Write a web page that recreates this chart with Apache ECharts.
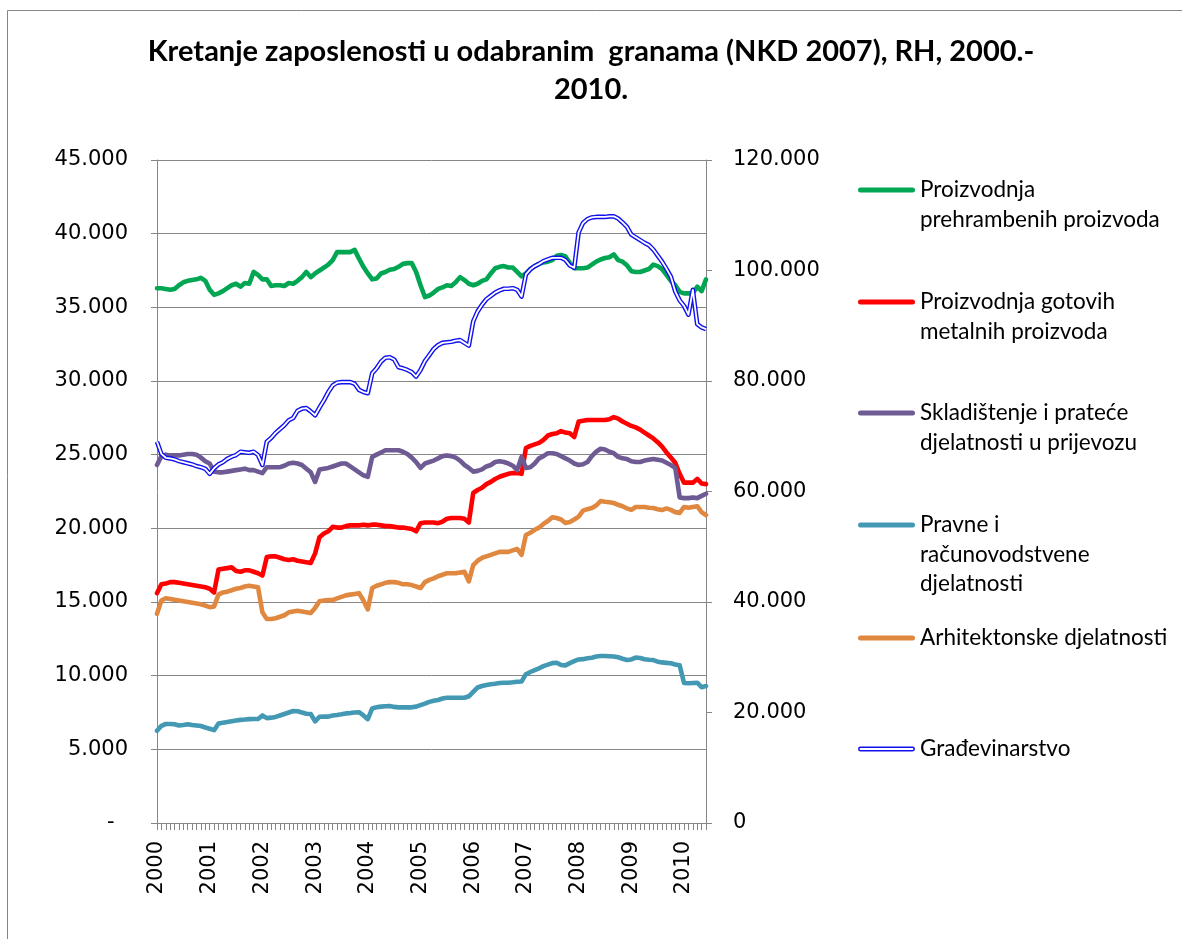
<!DOCTYPE html>
<html>
<head>
    <meta charset="utf-8">
    <title>Kretanje zaposlenosti</title>
    <script src="https://cdn.jsdelivr.net/npm/echarts@6/dist/echarts.min.js"></script>
    <style>
        html, body { margin: 0; padding: 0; background: #fff; }
    </style>
</head>
<body>
    <div id="main" style="width: 1182px;height:939px;"></div>
    <script type="text/javascript">
// godine na osi x, mjesecni podaci sijecanj 2000. - lipanj 2010.
var years = ['2000', '2001', '2002', '2003', '2004', '2005', '2006', '2007', '2008', '2009', '2010'];
var monthsIn2010 = 6;

var seriesNames = [
    'Proizvodnja prehrambenih proizvoda',
    'Proizvodnja gotovih metalnih proizvoda',
    'Skladištenje i prateće djelatnosti u prijevozu',
    'Pravne i računovodstvene djelatnosti',
    'Arhitektonske djelatnosti',
    'Građevinarstvo'
];
// kako se naziv lomi u legendi
var legendLabels = [
    'Proizvodnja\nprehrambenih proizvoda',
    'Proizvodnja gotovih\nmetalnih proizvoda',
    'Skladištenje i prateće\ndjelatnosti u prijevozu',
    'Pravne i\nračunovodstvene\ndjelatnosti',
    'Arhitektonske djelatnosti',
    'Građevinarstvo'
];

var prehrambeni = [
    36300, 36300, 36250, 36200, 36250, 36500, 36700, 36800, 36850, 36900, 37000, 36800,
    36200, 35850, 35950, 36100, 36300, 36500, 36600, 36400, 36650, 36600, 37400, 37200,
    36900, 36900, 36450, 36500, 36500, 36450, 36650, 36600, 36800, 37050, 37400, 37050,
    37300, 37500, 37700, 37900, 38200, 38750, 38750, 38750, 38750, 38900, 38300, 37750,
    37300, 36900, 36950, 37300, 37400, 37550, 37600, 37750, 37950, 38000, 38000, 37400,
    36500, 35700, 35800, 36000, 36250, 36350, 36500, 36450, 36700, 37050, 36850, 36600,
    36500, 36600, 36800, 36900, 37300, 37650, 37750, 37800, 37700, 37700, 37400, 37100,
    37300, 37600, 37800, 37950, 38050, 38100, 38200, 38500, 38550, 38450, 38000, 37650,
    37650, 37650, 37700, 37900, 38100, 38250, 38350, 38400, 38600, 38200, 38100, 37850,
    37450, 37400, 37400, 37500, 37600, 37900, 37800, 37600, 37200, 36800,
    36500, 36050, 35950, 35950, 35950, 36400, 36100, 36900
];

var metalni = [
    15600, 16200, 16250, 16350, 16350, 16300, 16250, 16200, 16150, 16100, 16050, 16000,
    15900, 15650, 17200, 17250, 17300, 17350, 17100, 17050, 17150, 17150, 17050, 16950,
    16800, 18050, 18100, 18100, 18000, 17900, 17850, 17900, 17800, 17750, 17700, 17650,
    18300, 19400, 19650, 19800, 20100, 20050, 20050, 20150, 20200, 20200, 20200, 20250,
    20200, 20250, 20250, 20200, 20150, 20150, 20100, 20050, 20050, 20000, 19950, 19800,
    20350, 20400, 20400, 20400, 20350, 20450, 20650, 20700, 20700, 20700, 20650, 20400,
    22400, 22600, 22750, 23000, 23150, 23350, 23500, 23600, 23700, 23750, 23750, 23700,
    25450, 25600, 25700, 25800, 26000, 26300, 26400, 26450, 26600, 26500, 26450, 26200,
    27250, 27300, 27350, 27350, 27350, 27350, 27350, 27400, 27550, 27450, 27250, 27100,
    26950, 26850, 26700, 26500, 26300, 26100, 25850, 25550, 25150, 24800,
    24450, 23700, 23100, 23100, 23100, 23350, 23050, 23000
];

var skladistenje = [
    24300, 24900, 25000, 24950, 24950, 24950, 25000, 25050, 25050, 25000, 24800, 24550,
    24400, 23850, 23800, 23800, 23850, 23900, 23950, 24000, 24050, 23950, 23950, 23850,
    23750, 24150, 24150, 24150, 24150, 24250, 24400, 24450, 24400, 24300, 24050, 23800,
    23150, 24000, 24050, 24100, 24200, 24300, 24400, 24400, 24200, 24000, 23800, 23600,
    23500, 24850, 25000, 25150, 25300, 25300, 25300, 25300, 25200, 25050, 24800, 24500,
    24100, 24400, 24500, 24600, 24750, 24900, 24950, 24900, 24800, 24600, 24300, 24100,
    23850, 23900, 24000, 24200, 24300, 24500, 24550, 24500, 24400, 24250, 23950, 24850,
    24100, 24150, 24400, 24750, 24900, 25100, 25100, 25050, 24900, 24750, 24600, 24400,
    24300, 24350, 24500, 24900, 25200, 25400, 25350, 25200, 25100, 24850, 24750, 24700,
    24550, 24500, 24500, 24600, 24650, 24700, 24650, 24600, 24450, 24300,
    24100, 22100, 22050, 22050, 22100, 22050, 22200, 22350
];

var pravne = [
    6260, 6600, 6720, 6720, 6700, 6620, 6650, 6700, 6650, 6620, 6580, 6480,
    6400, 6300, 6750, 6800, 6850, 6900, 6950, 7000, 7020, 7050, 7060, 7060,
    7300, 7120, 7150, 7200, 7300, 7400, 7500, 7600, 7580, 7500, 7420, 7400,
    6900, 7210, 7220, 7220, 7300, 7330, 7380, 7440, 7460, 7500, 7520, 7300,
    7050, 7780, 7850, 7900, 7920, 7940, 7880, 7850, 7850, 7850, 7850, 7900,
    8000, 8100, 8220, 8300, 8350, 8450, 8500, 8500, 8500, 8500, 8500, 8600,
    8900, 9200, 9300, 9370, 9420, 9450, 9500, 9520, 9520, 9550, 9590, 9600,
    10100, 10250, 10380, 10500, 10650, 10750, 10850, 10880, 10720, 10700, 10850, 10980,
    11100, 11120, 11180, 11220, 11300, 11330, 11330, 11320, 11300, 11250, 11150, 11060,
    11100, 11230, 11200, 11120, 11080, 11060, 10950, 10900, 10870, 10840,
    10760, 10700, 9500, 9480, 9500, 9520, 9220, 9300
];

var arhitektonske = [
    14200, 15100, 15250, 15200, 15150, 15100, 15050, 15000, 14950, 14900, 14850, 14750,
    14650, 14700, 15500, 15650, 15700, 15800, 15900, 15950, 16050, 16100, 16050, 16000,
    14300, 13850, 13850, 13900, 14000, 14100, 14300, 14350, 14400, 14350, 14300, 14250,
    14600, 15050, 15100, 15130, 15130, 15250, 15350, 15450, 15500, 15550, 15600, 15100,
    14500, 15950, 16100, 16200, 16300, 16350, 16350, 16300, 16200, 16200, 16150, 16050,
    15950, 16350, 16500, 16600, 16750, 16850, 16950, 16950, 16950, 17000, 17050, 16400,
    17500, 17800, 18000, 18100, 18200, 18300, 18400, 18400, 18400, 18500, 18600, 18200,
    19550, 19700, 19900, 20050, 20300, 20500, 20750, 20700, 20600, 20360, 20430, 20600,
    20800, 21200, 21300, 21380, 21550, 21850, 21800, 21770, 21720, 21600, 21500, 21350,
    21250, 21450, 21450, 21450, 21400, 21380, 21300, 21240, 21350, 21250,
    21100, 21050, 21450, 21400, 21450, 21500, 21100, 20900
];

var gradjevinarstvo = [
    69000, 66800, 66100, 66000, 65800, 65500, 65300, 65100, 64900, 64600, 64400, 64100,
    63200, 64200, 64900, 65300, 65900, 66300, 66600, 67200, 67100, 67000, 67200, 66600,
    64800, 69000, 69700, 70600, 71300, 72000, 72900, 73300, 74600, 75000, 75100, 74500,
    73800, 75200, 76500, 78000, 79200, 79700, 79800, 79800, 79800, 79500, 78400, 78000,
    77800, 81400, 82300, 83500, 84200, 84300, 83900, 82500, 82300, 82000, 81600, 80800,
    82000, 83600, 84700, 85800, 86500, 86900, 87000, 87100, 87300, 87400, 86900, 86400,
    90800, 92600, 93800, 94800, 95400, 96000, 96400, 96700, 96700, 96800, 96500, 95300,
    99300, 100200, 100800, 101200, 101700, 102000, 102300, 102300, 102300, 101900, 100900, 100500,
    106900, 108600, 109300, 109600, 109700, 109700, 109700, 109800, 109800, 109400, 108700, 107900,
    106500, 106000, 105500, 105000, 104600, 103800, 102700, 101600, 100300, 98900,
    96200, 94600, 93600, 92000, 96500, 90300, 89700, 89400
];

var colors = ['#00A651', '#FF0000', '#6F5B93', '#4399B3', '#E0883F', '#1010F0'];

// kategorije: godina-mjesec
var months = [];
years.forEach(function (y, yi) {
    var n = yi === years.length - 1 ? monthsIn2010 : 12;
    for (var m = 1; m <= n; m++) {
        months.push(y + '-' + (m < 10 ? '0' + m : m));
    }
});

function fmtThousands(v) {
    return String(v).replace(/\B(?=(\d{3})+(?!\d))/g, '.');
}

var myChart = echarts.init(document.getElementById('main'));

var lineIcon = 'path://M2.5,0H54.5A2.5,2.5,0,0,1,54.5,5H2.5A2.5,2.5,0,0,1,2.5,0Z';
var doubleIcon = 'path://M2,0H55A2,2,0,0,1,55,5H2A2,2,0,0,1,2,0ZM2,1.6A0.9,0.9,0,0,0,2,3.4H55A0.9,0.9,0,0,0,55,1.6Z';

// legenda: svaka stavka posebno, ikona uz prvi red teksta
// (prazni redovi iznad teksta pomicu prvi red na visinu ikone)
var legendY = [190, 302, 413, 525, 638, 749];
var lineH = 29.5;
var legends = seriesNames.map(function (name, i) {
    var nLines = legendLabels[i].split('\n').length;
    var pad = new Array(nLines).join(' \n');
    return {
        left: 858,
        top: legendY[i] - 2.5 - (2 * nLines - 1) * lineH / 2 + 2.5,
        padding: 0,
        itemWidth: 57,
        itemHeight: 5,
        selectedMode: false,
        icon: i === 5 ? doubleIcon : lineIcon,
        formatter: function () { return pad + legendLabels[i]; },
        textStyle: {
            fontFamily: 'Lato',
            fontSize: 22.5,
            color: '#000',
            lineHeight: lineH
        },
        data: [name]
    };
});

var leftData = [prehrambeni, metalni, skladistenje, pravne, arhitektonske];

var series = leftData.map(function (d, i) {
    return {
        name: seriesNames[i],
        type: 'line',
        yAxisIndex: 0,
        data: d,
        symbol: 'none',
        color: colors[i],
        lineStyle: { width: 4.6, color: colors[i], join: 'round', cap: 'round' },
        z: 2 + i
    };
});
// gradjevinarstvo: dvostruka linija (plava + bijela sredina)
series.push({
    name: seriesNames[5],
    type: 'line',
    yAxisIndex: 1,
    data: gradjevinarstvo,
    symbol: 'none',
    color: colors[5],
    lineStyle: { width: 4.6, color: colors[5], join: 'round' },
    z: 10
});
series.push({
    name: 'Građevinarstvo (sredina)',
    type: 'line',
    yAxisIndex: 1,
    data: gradjevinarstvo,
    symbol: 'none',
    silent: true,
    color: '#fff',
    lineStyle: { width: 1.8, color: '#fff', join: 'round' },
    z: 11
});

var axisGray = '#868686';
var tickFont = { fontFamily: 'DejaVu Sans', fontSize: 21, color: '#000' };

option = {
    animation: false,
    backgroundColor: '#fff',
    title: {
        text: 'Kretanje zaposlenosti u odabranim  granama (NKD 2007), RH, 2000.-\n2010.',
        left: 'center',
        top: 28,
        textStyle: {
            fontFamily: 'Lato',
            fontWeight: 'bold',
            fontSize: 29,
            lineHeight: 38,
            color: '#000'
        }
    },
    legend: legends,
    grid: { left: 157, right: 476, top: 160, bottom: 116 },
    xAxis: {
        type: 'category',
        data: months,
        boundaryGap: false,
        axisLine: { lineStyle: { color: axisGray, width: 1 } },
        axisTick: { interval: 0, length: 7, lineStyle: { color: axisGray } },
        axisLabel: Object.assign({
            interval: 11,
            rotate: 90,
            margin: 18,
            formatter: function (v) { return v.slice(0, 4); }
        }, tickFont),
        splitLine: { show: false }
    },
    yAxis: [{
        type: 'value',
        position: 'left',
        min: 0,
        max: 45000,
        interval: 5000,
        axisLine: { show: true, lineStyle: { color: axisGray } },
        axisTick: { show: true, length: 6, lineStyle: { color: axisGray } },
        axisLabel: Object.assign({
            margin: 29,
            formatter: function (v) { return v === 0 ? '-  ' : fmtThousands(v); }
        }, tickFont),
        splitLine: { show: true, lineStyle: { color: axisGray, width: 1 } }
    }, {
        type: 'value',
        position: 'right',
        min: 0,
        max: 120000,
        interval: 20000,
        axisLine: { show: true, lineStyle: { color: axisGray } },
        axisTick: { show: true, length: 6, lineStyle: { color: axisGray } },
        axisLabel: Object.assign({
            margin: 27,
            formatter: function (v) { return fmtThousands(v); }
        }, tickFont),
        splitLine: { show: false }
    }],
    graphic: [{
        type: 'rect',
        silent: true,
        shape: { x: 7.5, y: 10.5, width: 1200, height: 1000 },
        style: { fill: 'none', stroke: axisGray, lineWidth: 1 }
    }],
    series: series
};

myChart.setOption(option);
    </script>
</body>
</html>
